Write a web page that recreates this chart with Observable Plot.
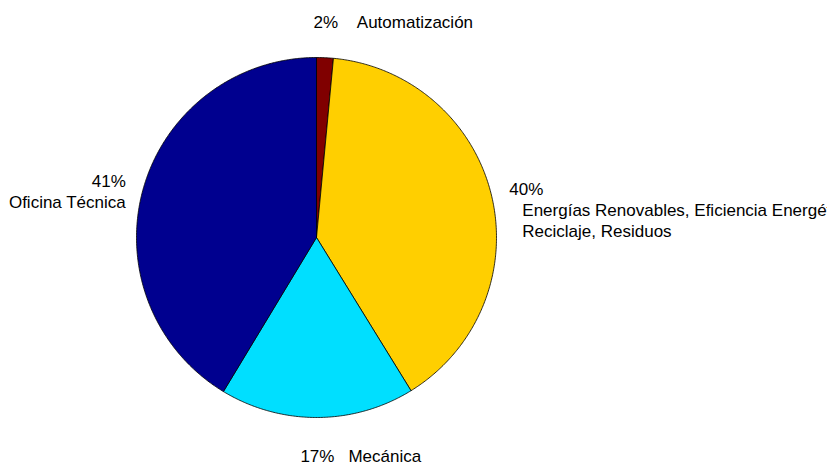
<!DOCTYPE html>
<html><head><meta charset="utf-8">
<script src="https://cdn.jsdelivr.net/npm/d3@7"></script>
<script src="https://cdn.jsdelivr.net/npm/@observablehq/plot@0.6"></script>
<style>body{margin:0;background:#fff}</style>
</head><body><div id="chart"></div>
<script>
// Data
const categories = ["Automatización", "Energías Renovables", "Mecánica", "Oficina Técnica"];
const values = [1.5, 39.7, 17.45, 41.35];
const pctLabels = ["2%", "40%", "17%", "41%"];
const nameLabels = [
  "Automatización",
  "Energías Renovables, Eficiencia Energética,\nReciclaje, Residuos",
  "Mecánica",
  "Oficina Técnica"
];
const colors = ["#800000", "#FFCF00", "#00DFFF", "#00008F"];

// Build slice outlines (clockwise from 12 o'clock) in unit-circle coordinates
const total = d3.sum(values);
const slices = [];
const pts = [];
let acc = 0;
values.forEach((v, i) => {
  const a0 = acc / total * 2 * Math.PI;
  acc += v;
  const a1 = acc / total * 2 * Math.PI;
  const n = Math.max(2, Math.ceil((a1 - a0) / (Math.PI / 360)));
  pts.push({cat: categories[i], x: 0, y: 0});
  for (let k = 0; k <= n; k++) {
    const a = a0 + (a1 - a0) * k / n;
    pts.push({cat: categories[i], x: Math.sin(a), y: Math.cos(a)});
  }
  pts.push({cat: categories[i], x: 0, y: 0});
  const am = (a0 + a1) / 2;
  slices.push({i, cat: categories[i], pct: pctLabels[i], name: nameLabels[i],
    lx: 1.1 * Math.sin(am), ly: 1.1 * Math.cos(am), s: Math.sin(am)});
});

const font = "'Liberation Sans', Arial, sans-serif";
const fs = 17;
const textMarks = [];
for (const d of slices) {
  if (Math.abs(d.s) < 0.4) {
    const top = d.ly > 0;
    const dy = top ? -17 : 21.5;
    textMarks.push(Plot.text([d], {x: "lx", y: "ly", text: "pct", textAnchor: "middle", lineAnchor: "middle", dy, fontSize: fs, fontFamily: font, fill: "#000"}));
    textMarks.push(Plot.text([d], {x: "lx", y: "ly", text: "name", textAnchor: "start", lineAnchor: "middle", dx: 31, dy, fontSize: fs, fontFamily: font, fill: "#000"}));
  } else {
    const right = d.s > 0;
    const anchor = right ? "start" : "end";
    textMarks.push(Plot.text([d], {x: "lx", y: "ly", text: "pct", textAnchor: anchor, lineAnchor: "middle", dy: -3, fontSize: fs, fontFamily: font, fill: "#000"}));
    textMarks.push(Plot.text([d], {x: "lx", y: "ly", text: "name", textAnchor: anchor, lineAnchor: "top", dx: right ? 13 : 0, dy: 8.5, lineHeight: 21 / 17, fontSize: fs, fontFamily: font, fill: "#000"}));
  }
}

const chart = Plot.plot({
  width: 827,
  height: 465,
  margin: 0,
  x: {domain: [-1, 1], range: [136, 496], axis: null},
  y: {domain: [-1, 1], range: [417, 57], axis: null},
  color: {domain: categories, range: colors},
  style: {background: "#fff", overflow: "hidden"},
  marks: [
    Plot.line(pts, {x: "x", y: "y", z: "cat", fill: "cat", stroke: "#000", strokeWidth: 0.8, curve: "linear"}),
    ...textMarks
  ]
});
document.getElementById("chart").appendChild(chart);
</script>
</body></html>
